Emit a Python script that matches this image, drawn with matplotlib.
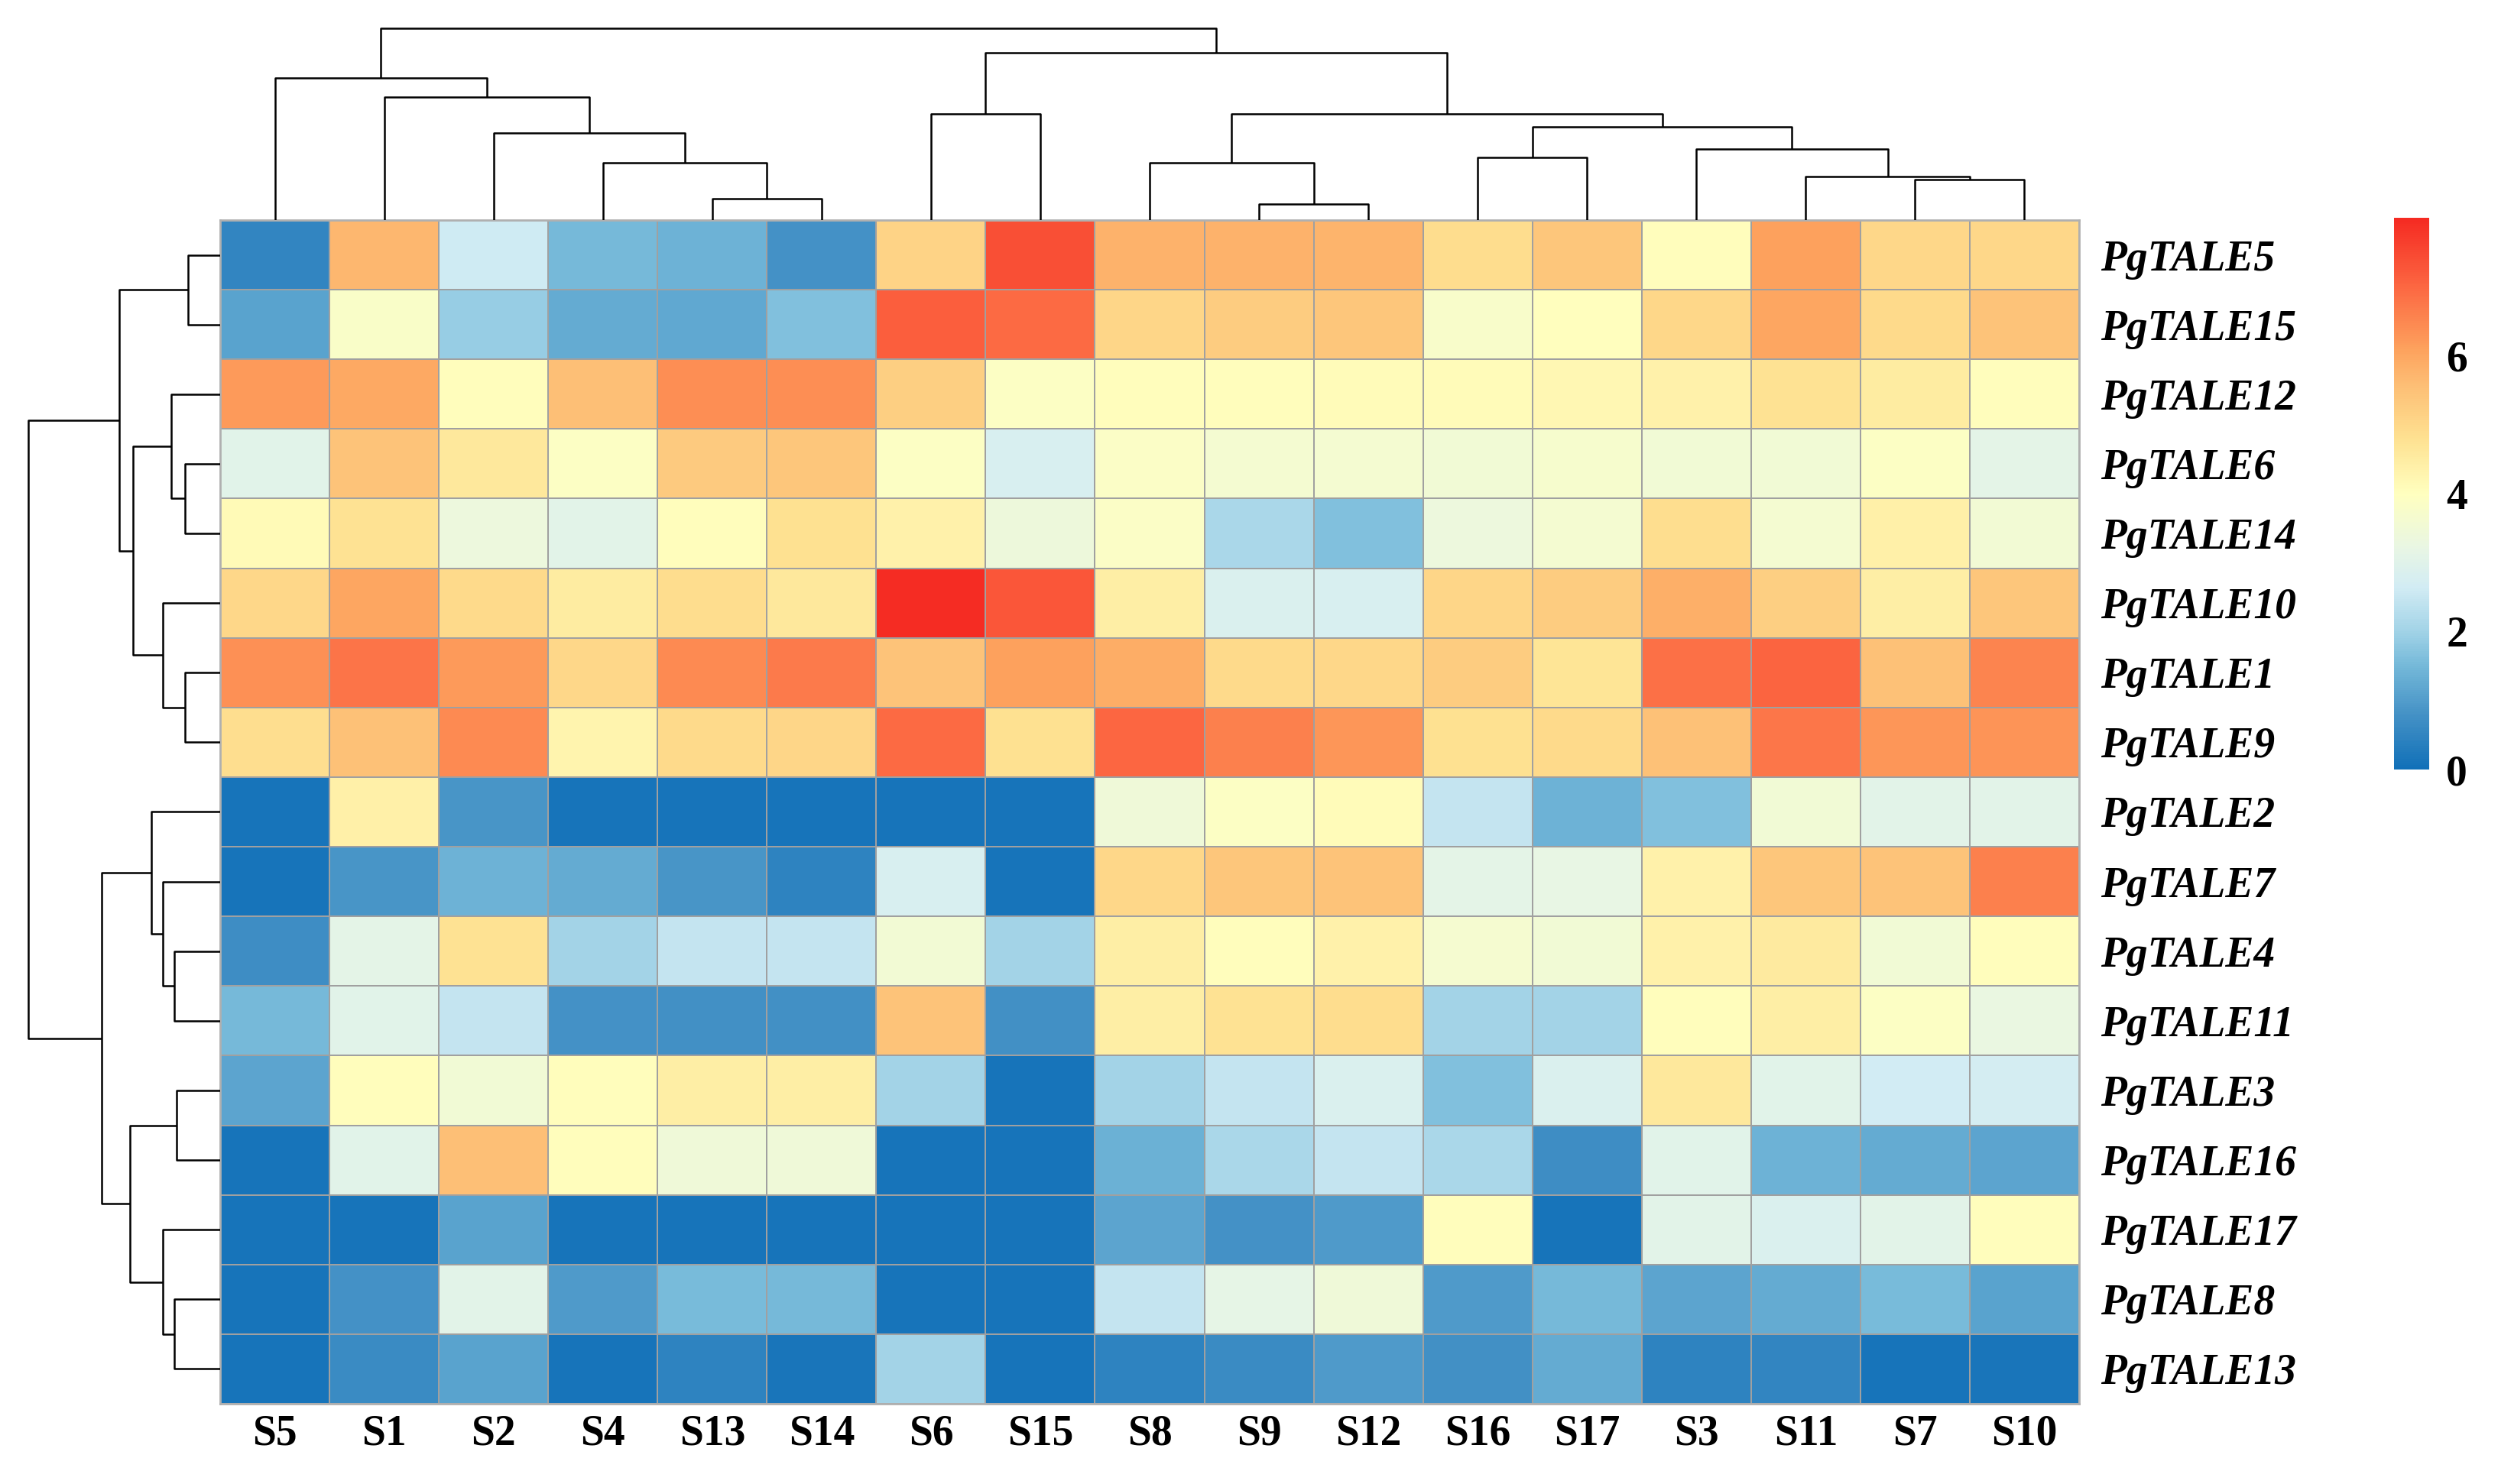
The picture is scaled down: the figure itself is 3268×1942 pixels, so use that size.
import numpy as np
import matplotlib
matplotlib.use("Agg")
import matplotlib.pyplot as plt
from matplotlib.colors import LinearSegmentedColormap

plt.rcParams['font.family'] = ['Liberation Serif', 'DejaVu Serif']

# columns and rows in the clustered (displayed) order
samples = ["S5", "S1", "S2", "S4", "S13", "S14", "S6", "S15", "S8", "S9",
           "S12", "S16", "S17", "S3", "S11", "S7", "S10"]
genes = ["PgTALE5", "PgTALE15", "PgTALE12", "PgTALE6", "PgTALE14", "PgTALE10",
         "PgTALE1", "PgTALE9", "PgTALE2", "PgTALE7", "PgTALE4", "PgTALE11",
         "PgTALE3", "PgTALE16", "PgTALE17", "PgTALE8", "PgTALE13"]

expr = np.array([
    [0.5, 5.7, 2.6, 1.5, 1.4, 0.8, 5.1, 7.4, 5.8, 5.8, 5.75, 4.9, 5.4, 4.05, 6.1, 5.0, 5.0],
    [1.1, 3.8, 1.9, 1.25, 1.2, 1.65, 7.15, 6.95, 5.05, 5.25, 5.4, 3.75, 4.0, 5.0, 6.0, 4.95, 5.45],
    [6.2, 5.95, 4.05, 5.55, 6.4, 6.4, 5.2, 3.9, 4.05, 4.05, 4.1, 4.1, 4.2, 4.35, 4.75, 4.5, 4.05],
    [3.0, 5.45, 4.6, 3.9, 5.3, 5.4, 3.9, 2.8, 3.85, 3.6, 3.6, 3.5, 3.7, 3.5, 3.5, 3.9, 3.1],
    [4.15, 4.75, 3.35, 3.05, 4.05, 4.8, 4.35, 3.4, 3.85, 2.1, 1.65, 3.35, 3.6, 4.85, 3.6, 4.4, 3.55],
    [5.0, 6.0, 4.95, 4.5, 4.9, 4.6, 7.95, 7.25, 4.45, 2.85, 2.8, 5.05, 5.25, 5.85, 5.2, 4.45, 5.4],
    [6.35, 6.8, 6.2, 5.0, 6.45, 6.7, 5.45, 6.1, 5.9, 4.95, 5.0, 5.25, 4.7, 6.85, 7.05, 5.5, 6.55],
    [4.85, 5.5, 6.45, 4.3, 4.95, 5.05, 6.95, 4.8, 7.0, 6.6, 6.25, 4.8, 4.95, 5.5, 6.75, 6.25, 6.3],
    [0.1, 4.4, 0.85, 0.1, 0.1, 0.1, 0.1, 0.1, 3.45, 3.9, 4.1, 2.45, 1.4, 1.65, 3.5, 3.05, 3.05],
    [0.1, 0.85, 1.4, 1.25, 0.85, 0.45, 2.8, 0.1, 5.0, 5.4, 5.45, 3.1, 3.2, 4.35, 5.4, 5.45, 6.6],
    [0.7, 3.1, 4.75, 2.0, 2.45, 2.45, 3.55, 2.0, 4.45, 4.05, 4.35, 3.65, 3.5, 4.35, 4.55, 3.5, 4.05],
    [1.5, 3.0, 2.45, 0.8, 0.75, 0.75, 5.45, 0.75, 4.45, 4.75, 4.9, 2.0, 2.0, 4.05, 4.45, 3.9, 3.25],
    [1.15, 4.05, 3.5, 4.05, 4.45, 4.45, 2.0, 0.1, 2.0, 2.45, 2.85, 1.65, 2.85, 4.6, 3.0, 2.65, 2.7],
    [0.1, 3.0, 5.55, 4.05, 3.45, 3.45, 0.1, 0.1, 1.35, 2.1, 2.45, 2.1, 0.7, 3.0, 1.4, 1.25, 1.15],
    [0.1, 0.1, 1.1, 0.1, 0.1, 0.1, 0.1, 0.1, 1.15, 0.8, 0.95, 4.05, 0.1, 3.05, 2.85, 3.05, 4.05],
    [0.1, 0.8, 3.05, 0.95, 1.55, 1.5, 0.1, 0.1, 2.45, 3.15, 3.45, 0.95, 1.5, 1.15, 1.25, 1.55, 1.1],
    [0.1, 0.65, 1.1, 0.1, 0.45, 0.15, 2.0, 0.1, 0.45, 0.65, 0.95, 0.75, 1.25, 0.45, 0.5, 0.1, 0.15],
])

# merges: (child a, child b, height); leaves are 0..16, new nodes 17, 18, ...
col_merges = [(4, 5, 84), (3, 17, 224), (2, 18, 343), (1, 19, 484), (0, 20, 560),
              (6, 7, 419), (9, 10, 62), (8, 23, 224), (11, 12, 245), (15, 16, 159),
              (14, 26, 170), (13, 27, 279), (25, 28, 365), (24, 29, 419),
              (22, 30, 657), (21, 31, 755)]
row_merges = [(0, 1, 127), (3, 4, 138), (2, 18, 193), (6, 7, 138), (5, 20, 225),
              (19, 21, 343), (17, 22, 398), (10, 11, 180), (9, 24, 225), (8, 25, 270),
              (12, 13, 170), (15, 16, 180), (14, 28, 225), (27, 29, 355),
              (26, 30, 465), (23, 31, 755)]

colorbar_ticks = [0, 2, 4, 6]

cmap = LinearSegmentedColormap.from_list("expr", [
    (0.00, "#1170b8"), (0.10, "#4592c6"), (0.1875, "#75b9d9"), (0.25, "#a2d3e7"),
    (0.33, "#d2ecf4"), (0.40, "#e8f6e4"), (0.50, "#ffffbf"), (0.60, "#fee191"),
    (0.70, "#fdbd74"), (0.76, "#fda35e"), (0.87, "#fc6a43"), (1.00, "#f52a22")])


def draw_dendro(ax, merges, n, orient):
    pos = {i: i + 0.5 for i in range(n)}
    hgt = {i: 0 for i in range(n)}
    for k, (a, b, h) in enumerate(merges):
        xs = [pos[a], pos[a], pos[b], pos[b]]
        ys = [hgt[a], h, h, hgt[b]]
        if orient == "top":
            ax.plot(xs, ys, color="black", lw=1.8, solid_capstyle="butt")
        else:
            ax.plot(ys, xs, color="black", lw=1.8, solid_capstyle="butt")
        pos[n + k] = (pos[a] + pos[b]) / 2
        hgt[n + k] = h


W, H = 3268, 1942
fig = plt.figure(figsize=(W / 100, H / 100), dpi=100)

hl, hr, ht, hb = 288, 2720, 288, 1837
ax = fig.add_axes([hl / W, 1 - hb / H, (hr - hl) / W, (hb - ht) / H])
mesh = ax.pcolormesh(expr, cmap=cmap, vmin=0, vmax=8,
                     edgecolors="#a0a0a0", linewidth=1.4)
ax.set_xlim(0, len(samples))
ax.set_ylim(len(genes), 0)
ax.set_xticks(np.arange(len(samples)) + 0.5)
ax.set_xticklabels(samples, fontsize=40, fontweight="bold")
ax.set_yticks(np.arange(len(genes)) + 0.5)
ax.set_yticklabels(genes, fontsize=40, fontweight="bold", fontstyle="italic")
ax.yaxis.tick_right()
ax.tick_params(axis="x", length=0, pad=10)
ax.tick_params(axis="y", length=0, pad=20)
for s in ax.spines.values():
    s.set_color("#b0b0b0")
    s.set_linewidth(2)

# column dendrogram
dh = 252
axc = fig.add_axes([hl / W, 1 - ht / H, (hr - hl) / W, dh / H])
draw_dendro(axc, col_merges, len(samples), "top")
axc.set_xlim(0, len(samples))
axc.set_ylim(0, 757)
axc.axis("off")

# row dendrogram
axr = fig.add_axes([(hl - dh) / W, 1 - hb / H, dh / W, (hb - ht) / H])
draw_dendro(axr, row_merges, len(genes), "left")
axr.set_ylim(len(genes), 0)
axr.set_xlim(757, 0)
axr.axis("off")

# colour bar
cax = fig.add_axes([3132 / W, 1 - 1007 / H, 46 / W, (1007 - 285) / H])
cb = fig.colorbar(mesh, cax=cax, ticks=colorbar_ticks)
cb.outline.set_visible(False)
cax.tick_params(length=0, pad=16)
for t in cax.get_yticklabels():
    t.set_fontsize(40)
    t.set_fontweight("bold")

fig.savefig("out.png", dpi=100, facecolor="white")
